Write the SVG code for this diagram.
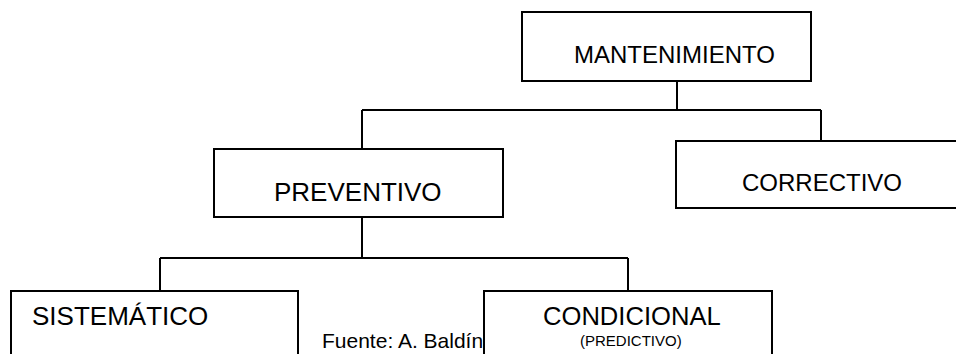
<svg xmlns="http://www.w3.org/2000/svg" width="956" height="354" viewBox="0 0 956 354">
<style>
.box{fill:#fff;stroke:#000;stroke-width:2}
.lbl{font-family:"Liberation Sans",Arial,sans-serif;fill:#000}
.con{fill:none;stroke:#000;stroke-width:2}
</style>
<rect width="956" height="354" fill="#fff"/>
<g id="connectors">
<path class="con" d="M677 81V110M362 110H821M362 110V149M821 110V141M362 217V258M160 258H628M160 258V291M628 258V291"/>
</g>
<text id="fuente" class="lbl" x="322" y="348" font-size="21">Fuente: A. Baldín</text>
<g id="mantenimiento">
<rect class="box" x="522" y="12" width="289" height="69"/>
<text class="lbl" x="574" y="63" font-size="24">MANTENIMIENTO</text>
</g>
<g id="preventivo">
<rect class="box" x="214" y="149" width="289" height="68"/>
<text class="lbl" x="274" y="201" font-size="26">PREVENTIVO</text>
</g>
<g id="correctivo">
<rect class="box" x="676" y="141" width="300" height="67"/>
<text class="lbl" x="742" y="191" font-size="24">CORRECTIVO</text>
</g>
<g id="sistematico">
<rect class="box" x="11" y="291" width="287" height="80"/>
<text class="lbl" x="32" y="325" font-size="26">SISTEMÁTICO</text>
</g>
<g id="condicional">
<rect class="box" x="484" y="291" width="288" height="80"/>
<text class="lbl" x="543" y="325" font-size="25.6">CONDICIONAL</text>
<text class="lbl" x="580" y="346" font-size="15">(PREDICTIVO)</text>
</g>
</svg>
